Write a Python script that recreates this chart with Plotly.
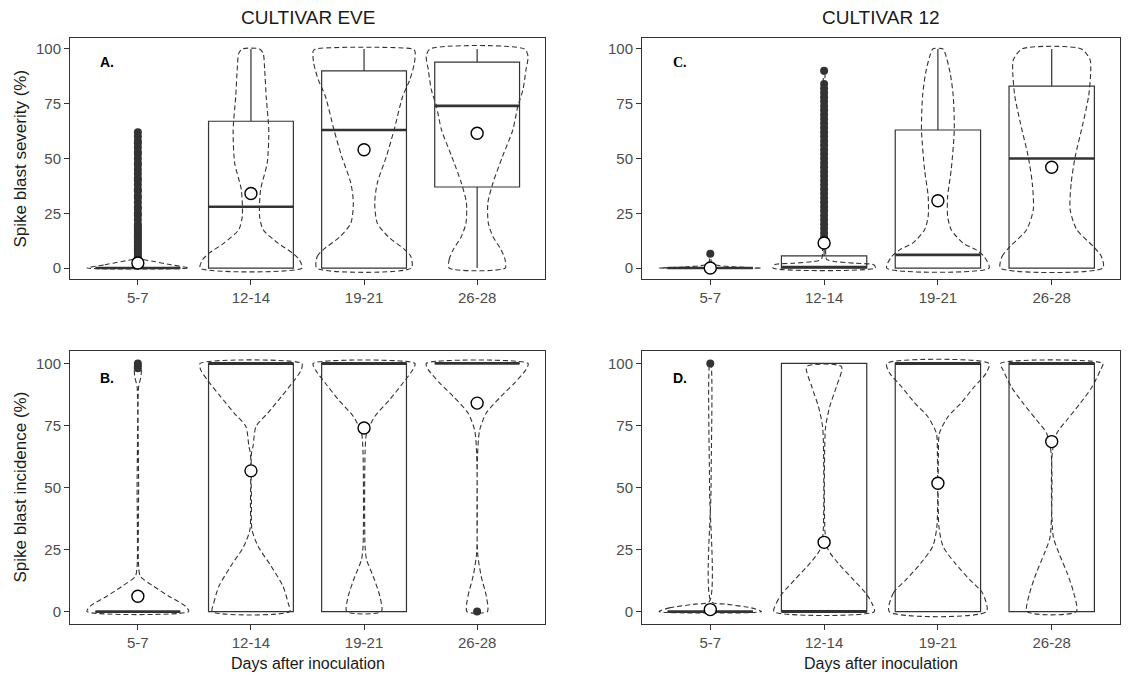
import plotly.graph_objects as go
from plotly.subplots import make_subplots

# ---------------- data ----------------
categories = ["5-7", "12-14", "19-21", "26-28"]
xpos = [1, 2, 3, 4]

# Panel A: severity, cultivar EVE
A_q1 = [0, 0, 0, 37]
A_med = [0, 28, 63, 74]
A_q3 = [0, 67, 90, 94]
A_lo = [0, 0, 0, 0]
A_hi = [0, 100, 100, 100]
A_mean = [2.3, 34, 54, 61.5]
A_out = [[2, 3, 4, 5, 6, 7, 8, 9, 10, 11, 12, 13, 14, 15, 16, 17, 18, 19, 20, 22, 24, 25,
          27, 28, 30, 32, 33, 35, 36, 38, 40, 41, 43, 45, 47, 48, 50, 52, 53, 55, 57, 58,
          60, 62], [], [], []]
A_vy = [[0, 1.5, 3, 4.5, 8, 30, 62],
        [0, 3.8, 6.8, 11.4, 17.5, 23.6, 35.8, 48, 63, 78, 90.5, 98, 100],
        [0, 5.3, 8.4, 14.4, 20.5, 29.7, 38.8, 51, 63, 78.4, 86, 93.6, 99, 100],
        [0, 3.8, 8.4, 14.4, 20.5, 29.7, 38.8, 51, 63, 73.8, 81.4, 90.5, 96.6, 100]]
A_vw = [[1.0, 0.65, 0.32, 0.05, 0.02, 0.015, 0.01],
        [1.0, 0.95, 0.82, 0.53, 0.24, 0.17, 0.19, 0.32, 0.35, 0.3, 0.27, 0.24, 0.17],
        [0.93, 0.92, 0.8, 0.47, 0.26, 0.21, 0.26, 0.44, 0.59, 0.76, 0.9, 0.99, 1.0, 0.95],
        [0.55, 0.55, 0.47, 0.31, 0.22, 0.21, 0.31, 0.5, 0.7, 0.8, 0.9, 0.96, 1.0, 0.93]]

# Panel C: severity, cultivar 12
C_q1 = [0, 0, 0, 0]
C_med = [0, 0.5, 6, 50]
C_q3 = [0, 5.6, 63, 83]
C_lo = [0, 0, 0, 0]
C_hi = [0, 13, 100, 100]
C_mean = [0, 11.4, 30.7, 46]
C_out = [[6.5],
         [14, 16, 18, 20, 22, 24, 26, 28, 30, 32, 34, 36, 38, 40, 42, 44, 46, 48, 50, 52,
          54, 56, 58, 60, 62, 64, 66, 68, 70, 72, 74, 76, 78, 80, 82, 84, 90],
         [], []]
C_vy = [[0, 0.5, 1.5, 3, 6.5],
        [0, 1.5, 2.2, 3, 4, 8, 20, 40, 60, 80, 90],
        [0, 5.3, 8.4, 11.4, 17.5, 23.6, 32.7, 44.9, 63, 78.4, 89, 96.6, 100],
        [0, 5.3, 9.9, 17.5, 26.6, 38.8, 51, 66, 78.4, 89, 95, 100]]
C_vw = [[1.0, 0.5, 0.1, 0.02, 0.01],
        [1.0, 0.97, 0.6, 0.2, 0.05, 0.03, 0.02, 0.02, 0.015, 0.01, 0.01],
        [1.0, 0.9, 0.74, 0.49, 0.26, 0.19, 0.19, 0.26, 0.32, 0.3, 0.24, 0.16, 0.1],
        [1.0, 0.97, 0.81, 0.49, 0.36, 0.38, 0.46, 0.61, 0.72, 0.76, 0.75, 0.58]]

# Panel B: incidence, cultivar EVE
B_q1 = [0, 0, 0, 100]
B_med = [0, 100, 100, 100]
B_q3 = [0, 100, 100, 100]
B_lo = [0, 0, 0, 100]
B_hi = [0, 100, 100, 100]
B_mean = [6.2, 56.7, 74, 84]
B_out = [[98, 100], [], [], [0]]
B_vy = [[0, 2.1, 6.2, 10.2, 14.2, 18.2, 50, 90.6, 94.6, 98.6, 100],
        [0, 3.5, 10.2, 18.2, 26.3, 33, 43.7, 63.8, 66.5, 74.6, 80, 86.7, 93.4, 97.5, 100],
        [0, 6.2, 14.2, 20.9, 26.3, 63.8, 71.9, 78.6, 85.3, 92, 97.5, 100],
        [0, 6.2, 14.2, 23.6, 63.8, 73.2, 80, 86.7, 92, 97.5, 100]]
B_vw = [[1.0, 0.94, 0.61, 0.31, 0.05, 0.015, 0.015, 0.015, 0.06, 0.07, 0.05],
        [0.76, 0.73, 0.63, 0.4, 0.14, 0.02, 0.01, 0.01, 0.04, 0.1, 0.33, 0.6, 0.86, 0.99, 1.0],
        [0.34, 0.31, 0.18, 0.05, 0.02, 0.02, 0.05, 0.21, 0.5, 0.76, 0.96, 1.0],
        [0.2, 0.18, 0.08, 0.01, 0.01, 0.05, 0.18, 0.47, 0.73, 0.96, 1.0]]

# Panel D: incidence, cultivar 12
D_q1 = [0, 0, 0, 0]
D_med = [0, 0, 100, 100]
D_q3 = [0, 100, 100, 100]
D_lo = [0, 0, 0, 0]
D_hi = [0, 100, 100, 100]
D_mean = [0.8, 27.9, 51.7, 68.5]
D_out = [[100], [], [], []]
D_vy = [[0, 1.5, 3, 4, 50, 100],
        [0, 3.5, 7.5, 12.9, 19.6, 24.9, 31.6, 63.8, 74.6, 82.6, 90.6, 98.7],
        [0, 7.5, 12.9, 19.6, 26.3, 34.3, 63.8, 71.9, 78.6, 84, 90.6, 96, 100],
        [0, 7.5, 15.6, 23.6, 30.3, 63.8, 71.9, 77.3, 84, 90.6, 97.3, 100]]
D_vw = [[1.0, 0.8, 0.3, 0.02, 0.015, 0.01],
        [0.98, 0.93, 0.81, 0.57, 0.27, 0.08, 0.02, 0.01, 0.03, 0.11, 0.24, 0.34],
        [0.95, 0.87, 0.62, 0.33, 0.1, 0.02, 0.01, 0.03, 0.2, 0.45, 0.71, 0.94, 1.0],
        [0.48, 0.43, 0.3, 0.14, 0.03, 0.01, 0.1, 0.3, 0.56, 0.79, 0.95, 1.0]]

panel_labels = ["A.", "C.", "B.", "D."]
col_titles = ["CULTIVAR EVE", "CULTIVAR 12"]
y_titles = ["Spike blast severity (%)", "Spike blast incidence (%)"]
x_title = "Days after inoculation"
y_ticks = [0, 25, 50, 75, 100]

# ---------------- styles ----------------
DARK = "#333333"
FONT = "Liberation Sans, Arial, sans-serif"
BOX_W = 0.75
VIO_W = 0.9

fig = make_subplots(rows=2, cols=2)

panels = [
    (1, 1, A_q1, A_med, A_q3, A_lo, A_hi, A_mean, A_out, A_vy, A_vw),
    (1, 2, C_q1, C_med, C_q3, C_lo, C_hi, C_mean, C_out, C_vy, C_vw),
    (2, 1, B_q1, B_med, B_q3, B_lo, B_hi, B_mean, B_out, B_vy, B_vw),
    (2, 2, D_q1, D_med, D_q3, D_lo, D_hi, D_mean, D_out, D_vy, D_vw),
]

for (r, c, q1, med, q3, lo, hi, mean, outs, vys, vws) in panels:
    # violins (dashed outlines)
    for i, xc in enumerate(xpos):
        ys = vys[i]
        ws = vws[i]
        left_x = [xc - VIO_W / 2 * w for w in ws]
        right_x = [xc + VIO_W / 2 * w for w in ws]
        px = left_x + right_x[::-1] + [left_x[0]]
        py = ys + ys[::-1] + [ys[0]]
        fig.add_trace(go.Scatter(x=px, y=py, mode="lines",
                                 line=dict(color=DARK, width=1.1, dash="5px,3px",
                                           shape="spline", smoothing=0.7),
                                 hoverinfo="skip", showlegend=False), row=r, col=c)
    # boxes
    fig.add_trace(go.Box(x=xpos, q1=q1, median=med, q3=q3, lowerfence=lo, upperfence=hi,
                         width=BOX_W, whiskerwidth=0, boxpoints=False,
                         line=dict(color=DARK, width=1.2), fillcolor="rgba(0,0,0,0)",
                         showlegend=False), row=r, col=c)
    # thick medians
    mx, my = [], []
    for xc, m in zip(xpos, med):
        mx += [xc - BOX_W / 2, xc + BOX_W / 2, None]
        my += [m, m, None]
    fig.add_trace(go.Scatter(x=mx, y=my, mode="lines", line=dict(color=DARK, width=2.6),
                             hoverinfo="skip", showlegend=False), row=r, col=c)
    # outliers
    ox, oy = [], []
    for xc, vals in zip(xpos, outs):
        ox += [xc] * len(vals)
        oy += vals
    fig.add_trace(go.Scatter(x=ox, y=oy, mode="markers",
                             marker=dict(color=DARK, size=8),
                             showlegend=False), row=r, col=c)
    # means
    fig.add_trace(go.Scatter(x=xpos, y=mean, mode="markers",
                             marker=dict(symbol="circle", size=12, color="white",
                                         line=dict(color="black", width=1.4)),
                             showlegend=False), row=r, col=c)

# ---------------- layout ----------------
W, H = 1138, 676
ML, MR, MT, MB = 70, 18, 38, 52
pw = W - ML - MR
ph = H - MT - MB


def xdom(a, b):
    return [(a - ML) / pw, (b - ML) / pw]


def ydom(top, bot):
    return [(H - MB - bot) / ph, (H - MB - top) / ph]


doms = {
    1: (xdom(70, 545), ydom(38, 279)),
    2: (xdom(642, 1120), ydom(38, 279)),
    3: (xdom(70, 545), ydom(351, 624)),
    4: (xdom(642, 1120), ydom(351, 624)),
}

axis_common = dict(showline=True, mirror=True, linecolor=DARK, linewidth=1,
                   ticks="outside", ticklen=5, tickcolor=DARK, tickwidth=1,
                   showgrid=False, zeroline=False,
                   tickfont=dict(family=FONT, size=15, color="#4D4D4D"))

for k, (xd, yd) in doms.items():
    sfx = "" if k == 1 else str(k)
    fig.layout["xaxis" + sfx].update(domain=xd, range=[0.4, 4.6], tickvals=xpos,
                                     ticktext=categories, **axis_common)
    fig.layout["yaxis" + sfx].update(domain=yd, range=[-5, 105], tickvals=y_ticks,
                                     **axis_common)

annotations = []
# panel letters
for k, lab in zip([1, 2, 3, 4], panel_labels):
    sfx = "" if k == 1 else str(k)
    fam = "Liberation Serif, Times New Roman, serif" if lab == "C." else FONT
    annotations.append(dict(x=0.73, y=94, xref="x" + sfx, yref="y" + sfx,
                            text="<b>" + lab + "</b>", showarrow=False,
                            xanchor="center", yanchor="middle",
                            font=dict(family=fam, size=14, color="black")))
# column titles
for k, t in zip([1, 2], col_titles):
    xd = doms[k][0]
    annotations.append(dict(x=(xd[0] + xd[1]) / 2, y=1 + 20 / ph, xref="paper", yref="paper",
                            text=t, showarrow=False, xanchor="center", yanchor="middle",
                            font=dict(family=FONT, size=19, color="#1a1a1a")))
# y titles
for k, t in zip([1, 3], y_titles):
    yd = doms[k][1]
    annotations.append(dict(x=(20 - ML) / pw, y=(yd[0] + yd[1]) / 2, xref="paper",
                            yref="paper", text=t, showarrow=False, textangle=-90,
                            xanchor="center", yanchor="middle",
                            font=dict(family=FONT, size=17, color="#1a1a1a")))
# x titles
for k in [3, 4]:
    xd = doms[k][0]
    annotations.append(dict(x=(xd[0] + xd[1]) / 2, y=-(663 - (H - MB)) / ph, xref="paper",
                            yref="paper", text=x_title, showarrow=False,
                            xanchor="center", yanchor="middle",
                            font=dict(family=FONT, size=16, color="#1a1a1a")))

fig.update_layout(width=W, height=H, margin=dict(l=ML, r=MR, t=MT, b=MB),
                  paper_bgcolor="white", plot_bgcolor="white", boxmode="overlay",
                  showlegend=False, annotations=annotations,
                  font=dict(family=FONT))

fig.write_html("out.html", config={"displayModeBar": False},
               post_script="document.body.style.margin='0';"
                           "document.body.style.overflow='hidden';")
